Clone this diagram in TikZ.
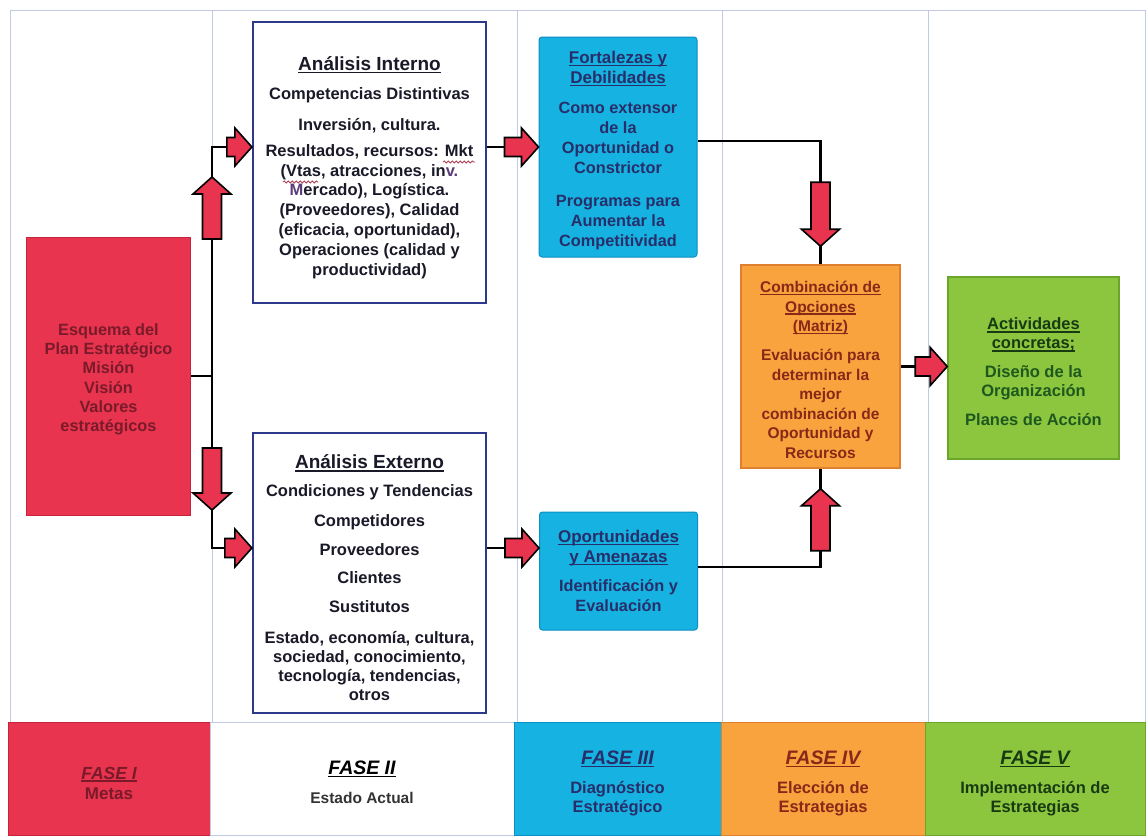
\documentclass[tikz,border=0pt]{standalone}
\usepackage{fontspec}
\setmainfont{Liberation Sans}
\usetikzlibrary{decorations.pathmorphing,calc}

\definecolor{plred}{RGB}{232,52,78}
\definecolor{plredline}{RGB}{196,36,60}
\definecolor{plredtext}{RGB}{122,26,42}
\definecolor{plcyan}{RGB}{22,178,226}
\definecolor{plcyanline}{RGB}{12,142,198}
\definecolor{plcyantext}{RGB}{40,46,105}
\definecolor{plorange}{RGB}{248,163,62}
\definecolor{plorangeline}{RGB}{222,128,46}
\definecolor{plorangetext}{RGB}{135,40,25}
\definecolor{plgreen}{RGB}{140,198,63}
\definecolor{plgreenline}{RGB}{106,166,42}
\definecolor{plgreenhead}{RGB}{24,58,18}
\definecolor{plgreentext}{RGB}{30,88,30}
\definecolor{plnavy}{RGB}{45,58,140}
\definecolor{plgrid}{RGB}{192,202,226}
\definecolor{pldark}{RGB}{25,25,40}
\definecolor{plsquig}{RGB}{176,62,84}
\definecolor{plpurple}{RGB}{92,60,120}

% heading underline drawn as a solid rule below the words
\newcommand\headul[1]{\setbox0\hbox{#1}\rlap{\rule[-2.6pt]{\wd0}{1.3pt}}\box0}
% invisible strut that sets the height of a first line
\newcommand\firststrut[1]{\rule{0pt}{#1}}

\tikzset{
  gridline/.style={draw=plgrid, line width=1pt},
  conn/.style={draw=black, line width=2.2pt},
  arrowbody/.style={fill=plred, draw=black, line width=1.6pt, line join=miter},
  pics/blockarrow/.style={code={
      \draw[arrowbody] (-#1,-9.5) -- (-17,-9.5) -- (-17,-19) -- (0,0)
        -- (-17,19) -- (-17,9.5) -- (-#1,9.5) -- cycle;
  }},
  boxbase/.style={align=center, inner sep=0pt},
  whitebox/.style={boxbase, draw=plnavy, line width=2.2pt, fill=white,
    text=pldark, minimum width=233pt},
  cyanbox/.style={boxbase, draw=plcyanline, line width=1pt, fill=plcyan,
    rounded corners=3pt, text=plcyantext, minimum width=158pt,
    font=\fontsize{16.3}{20}\selectfont\bfseries},
  redbox/.style={boxbase, draw=plredline, line width=1pt, fill=plred,
    text=plredtext, font=\fontsize{16.3}{19.2}\selectfont\bfseries},
  orangebox/.style={boxbase, draw=plorangeline, line width=1.5pt, fill=plorange,
    text=plorangetext, font=\fontsize{15.5}{19.5}\selectfont\bfseries},
  greenbox/.style={boxbase, draw=plgreenline, line width=1.5pt, fill=plgreen,
    text=plgreentext, font=\fontsize{16.5}{19}\selectfont\bfseries},
  band/.style={boxbase, minimum height=113pt, line width=1pt},
  squig/.style={draw=plsquig, line width=0.8pt, decorate,
    decoration={snake, segment length=4pt, amplitude=1.1pt}},
}

\newcommand\fasehead[1]{{\fontsize{19.5}{22}\selectfont\bfseries\itshape\firststrut{24pt}\headul{#1}}}

\begin{document}
\begin{tikzpicture}[x=1pt,y=-1pt]
\useasboundingbox (0,0) rectangle (1148,835);
\fill[white] (0,0) rectangle (1148,835);

% column grid
\draw[gridline] (10,10) -- (1145,10);
\foreach \cx in {10,212,517,722,928,1145}
  \draw[gridline] (\cx,10) -- (\cx,722);

% phase bands
\node[band, fill=plred, draw=plredline, minimum width=202pt, text=plredtext]
  (f1) at (109,778.5)
  {{\fontsize{17.5}{21}\selectfont\bfseries\itshape\firststrut{21.5pt}\headul{FASE I}}\\[5pt]
   {\fontsize{17}{21}\selectfont\bfseries Metas}};
\node[band, fill=white, draw=plgrid, minimum width=304pt, text=black]
  (f2) at (362,778.5)
  {{\fontsize{19.5}{22}\selectfont\bfseries\itshape\firststrut{21pt}\headul{FASE II}}\\[14pt]
   {\fontsize{15.5}{19}\selectfont\bfseries\color{black!80} Estado Actual}};
\node[band, fill=plcyan, draw=plcyanline, minimum width=207pt, text=plcyantext,
  font=\fontsize{16.5}{19}\selectfont\bfseries]
  (f3) at (617.5,778.5)
  {\fasehead{FASE III}\\[10pt] Diagnóstico\\ Estratégico};
\node[band, fill=plorange, draw=plorangeline, minimum width=204pt, text=plorangetext,
  font=\fontsize{16.5}{19}\selectfont\bfseries]
  (f4) at (823,778.5)
  {\fasehead{FASE IV}\\[10pt] Elección de\\ Estrategias};
\node[band, fill=plgreen, draw=plgreenline, minimum width=220pt, text=plgreenhead,
  font=\fontsize{16.5}{19}\selectfont\bfseries]
  (f5) at (1035,778.5)
  {\fasehead{FASE V}\\[10pt] Implementación de\\ Estrategias};

% main boxes
\node[redbox, minimum width=164pt, minimum height=278pt] (esq) at (108.5,376)
  {\firststrut{18.5pt}Esquema del\\ Plan Estratégico\\ Misión\\ Visión\\ Valores\\ estratégicos};

\node[whitebox, minimum height=281pt, font=\fontsize{16.5}{19.8}\selectfont\bfseries]
  (intr) at (369.5,162.5)
  {{\fontsize{19}{22}\selectfont\firststrut{24pt}\headul{Análisis Interno}}\\[9.2pt]
   Competencias Distintivas\\[11.2pt]
   Inversión, cultura.\\[6.2pt]
   Resultados, recursos: Mkt\\
   (Vtas, atracciones, in{\color{plpurple}v.}\\
   {\color{plpurple}M}ercado), Logística.\\
   (Proveedores), Calidad\\
   (eficacia, oportunidad),\\
   Operaciones (calidad y\\
   productividad)};

\node[whitebox, minimum height=280pt, font=\fontsize{16.5}{19}\selectfont\bfseries]
  (extr) at (369.5,573)
  {{\fontsize{19}{22}\selectfont\firststrut{24pt}\headul{Análisis Externo}}\\[9pt]
   Condiciones y Tendencias\\[11pt]
   Competidores\\[10pt]
   Proveedores\\[9pt]
   Clientes\\[10pt]
   Sustitutos\\[12pt]
   Estado, economía, cultura,\\
   sociedad, conocimiento,\\
   tecnología, tendencias,\\
   otros};

\node[cyanbox, minimum height=220pt] (fort) at (618,147)
  {{\fontsize{17}{20}\selectfont\firststrut{20pt}\headul{Fortalezas y}}\\
   {\fontsize{17}{20}\selectfont\headul{Debilidades}}\\[10pt]
   Como extensor\\ de la\\ Oportunidad o\\ Constrictor\\[13pt]
   Programas para\\ Aumentar la\\ Competitividad};

\node[cyanbox, minimum height=118pt] (opor) at (618.5,571)
  {{\fontsize{17}{20}\selectfont\headul{Oportunidades}}\\
   {\fontsize{17}{20}\selectfont\headul{y Amenazas}}\\[9pt]
   Identificación y\\ Evaluación};

\node[orangebox, minimum width=159pt, minimum height=203pt] (comb) at (820.5,366.5)
  {\firststrut{18pt}\headul{Combinación de}\\ \headul{Opciones}\\ \headul{(Matriz)}\\[9.5pt]
   Evaluación para\\ determinar la\\ mejor\\ combinación de\\
   Oportunidad y\\ Recursos};

\node[greenbox, minimum width=171pt, minimum height=182pt] (act) at (1033.5,368)
  {{\color{plgreenhead}\firststrut{20pt}\headul{Actividades}}\\
   {\color{plgreenhead}\headul{concretas;}}\\[10pt]
   Diseño de la\\ Organización\\[10pt]
   Planes de Acción};

% spell-check marks under two words
\draw[squig] (443,162) -- (475,162);
\draw[squig] (283,182) -- (318,182);

% connectors
\coordinate (J) at (212,376);
\coordinate (rowA) at (0,147);
\coordinate (rowB) at (0,548);
\coordinate (rowC) at (0,141);
\coordinate (rowD) at (0,567);

\draw[conn] (esq.east) -- (J);
\draw[conn] (J) |- (intr.west |- rowA);
\draw[conn] (J) |- (extr.west |- rowB);
\draw[conn] (intr.east |- rowA) -- (fort.west |- rowA);
\draw[conn] (extr.east |- rowB) -- (opor.west |- rowB);
\draw[conn] (fort.east |- rowC) -| (comb.north);
\draw[conn] (opor.east |- rowD) -| (comb.south);
\draw[conn] (comb.east) -- (act.west |- comb.east);

% block arrows on the connectors
\pic[rotate=90]  at (212,177) {blockarrow=62};
\pic[rotate=-90] at (212,510) {blockarrow=62};
\pic at (intr.west |- rowA) {blockarrow=25};
\pic at (extr.west |- rowB) {blockarrow=27};
\pic at (fort.west |- rowA) {blockarrow=34};
\pic at (opor.west |- rowB) {blockarrow=34};
\pic[rotate=-90] at ([yshift=18pt]comb.north) {blockarrow=64};
\pic[rotate=90]  at ([yshift=-20pt]comb.south) {blockarrow=62};
\pic at (act.west |- comb.east) {blockarrow=32};
\end{tikzpicture}
\end{document}
